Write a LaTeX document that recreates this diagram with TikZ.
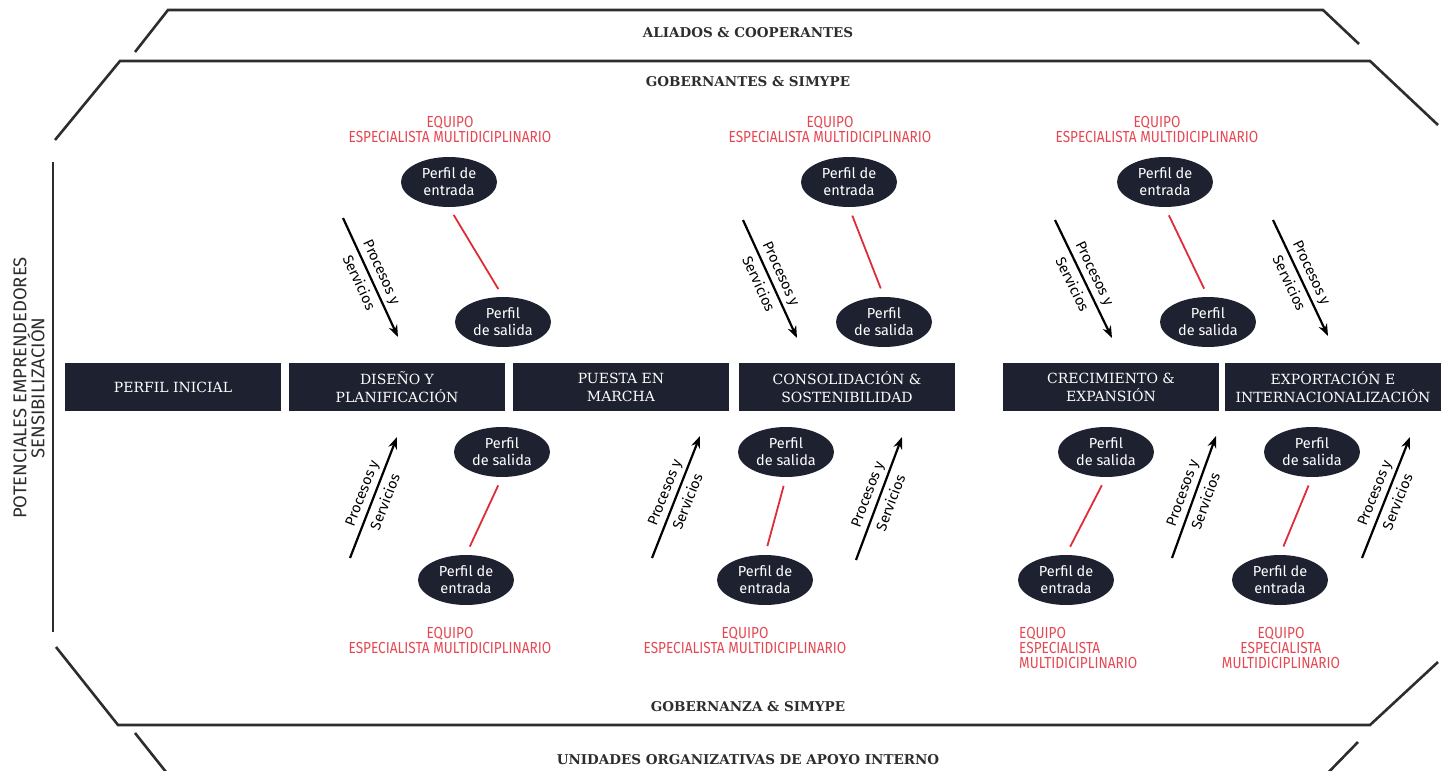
\documentclass[tikz,border=0pt]{standalone}
\usepackage{fontspec}
\setmainfont{DejaVu Serif}
\newfontfamily\perfilfont{Fira Sans}
\newfontfamily\condfont[FakeStretch=0.85]{Fira Sans}
\usepackage{xcolor}
\usetikzlibrary{positioning}
\usetikzlibrary{arrows.meta,shapes}

\definecolor{marino}{RGB}{30,33,47}
\definecolor{rojo}{RGB}{228,72,82}
\definecolor{rojolinea}{RGB}{222,45,55}
\definecolor{linea}{RGB}{45,45,48}

\tikzset{
	etapa/.style={fill=marino, text=white, minimum width=216pt, minimum height=48pt, inner sep=0pt, align=center, font=\fontsize{14}{18}\selectfont},
	perfil/.style={ellipse, fill=marino, text=white, minimum width=96pt, minimum height=50pt, inner sep=0pt, align=center, font=\perfilfont\fontsize{14.5}{17}\selectfont},
	equipo/.style={text=rojo, align=center, inner sep=0pt, font=\condfont\fontsize{16}{15}\selectfont},
	marco/.style={linea, line width=2.6pt},
	rotulo/.style={text=linea, inner sep=0pt, font=\bfseries\fontsize{13.5}{15}\selectfont},
	lateral/.style={text=linea, align=center, inner sep=0pt, font=\perfilfont\fontsize{18.5}{17}\selectfont},
	flecha/.style={line width=2.2pt, -{Stealth[length=12pt,width=9pt]}},
	proceso/.style={sloped, align=center, inner sep=0pt, font=\perfilfont\fontsize{14.5}{25}\selectfont},
	enlace/.style={rojolinea, line width=1.8pt, shorten >=9pt, shorten <=9pt}
}

\begin{document}
\begin{tikzpicture}[x=1pt, y=-1pt]
\useasboundingbox (0,0) rectangle (1449,771);
\clip (0,0) rectangle (1449,771);

%frame
	\draw[marco] (135,52) -- (168,10) -- (1323,10) -- (1359,44);
	\draw[marco] (55,140) -- (120,61) -- (1370,61) -- (1438,125);
	\draw[marco] (53,162) -- (53,632);
	\draw[marco] (56,647) -- (118,725) -- (1370,725) -- (1438,662);
	\draw[marco] (135,733) -- (174,782) -- (1319,782) -- (1358,742);

	\node[rotulo] (aliados) at (748,33) {ALIADOS \& COOPERANTES};
	\node[rotulo] (gobernantes) at (748,82) {GOBERNANTES \& SIMYPE};
	\node[rotulo] (gobernanza) at (748,707) {GOBERNANZA \& SIMYPE};
	\node[rotulo] (unidades) at (748,760) {UNIDADES ORGANIZATIVAS DE APOYO INTERNO};

	\node[lateral, rotate=90] (potenciales) at (29,388) {POTENCIALES EMPRENDEDORES\\SENSIBILIZACIÓN};

%stages
	\foreach \x/\name/\txt in {173/e1/{PERFIL INICIAL}, 397/e2/{DISEÑO Y\\PLANIFICACIÓN}, 621/e3/{PUESTA EN\\MARCHA}, 847/e4/{CONSOLIDACIÓN \&\\SOSTENIBILIDAD}, 1111/e5/{CRECIMIENTO \&\\EXPANSIÓN}, 1333/e6/{EXPORTACIÓN E\\INTERNACIONALIZACIÓN}}{
		\node[etapa] (\name) at (\x,387) {\txt};
	}

%perfiles
	\foreach \name/\x/\y in {tA/449/182, tB/849/182, tC/1165/182, dA/466/580, dB/765/580, dC/1066/580, dD/1280/580}{
		\node[perfil] (\name) at (\x,\y) {Perfil de\\entrada};
	}
	\foreach \name/\x/\y in {sA/503/322, sB/884/322, sC/1208/322, uA/502/452, uB/786/452, uC/1106/452, uD/1312/452}{
		\node[perfil] (\name) at (\x,\y) {Perfil\\de salida};
	}

%red links
	\foreach \a/\b in {tA/sA, tB/sB, tC/sC, uA/dA, uB/dB, uC/dC, uD/dD}{
		\draw[enlace] (\a.south) -- (\b.north);
	}

%equipo
	\foreach \name/\x/\y in {qA/450/129, qB/830/129, qC/1157/129, qD/450/640, qE/745/640}{
		\node[equipo] (\name) at (\x,\y) {EQUIPO\\ESPECIALISTA MULTIDICIPLINARIO};
	}
	\node[equipo, align=left, anchor=west] (qF) at (1019,648) {EQUIPO\\ESPECIALISTA\\MULTIDICIPLINARIO};
	\node[equipo] (qG) at (1281,648) {EQUIPO\\ESPECIALISTA\\MULTIDICIPLINARIO};

%procesos y servicios
	\foreach \i/\ax/\ay/\bx/\by in {1/343/218/398/337, 2/743/220/797/338, 3/1055/220/1112/338, 4/1273/220/1328/336, 5/350/558/397/437, 6/652/558/700/436, 7/856/560/902/437, 8/1172/558/1216/436, 9/1362/558/1410/437}{
		\coordinate (p\i) at (\ax,\ay);
		\coordinate (q\i) at (\bx,\by);
		\draw[flecha] (p\i) -- node[proceso] (ps\i) {Procesos y\\Servicios} (q\i);
	}

\end{tikzpicture}
\end{document}
